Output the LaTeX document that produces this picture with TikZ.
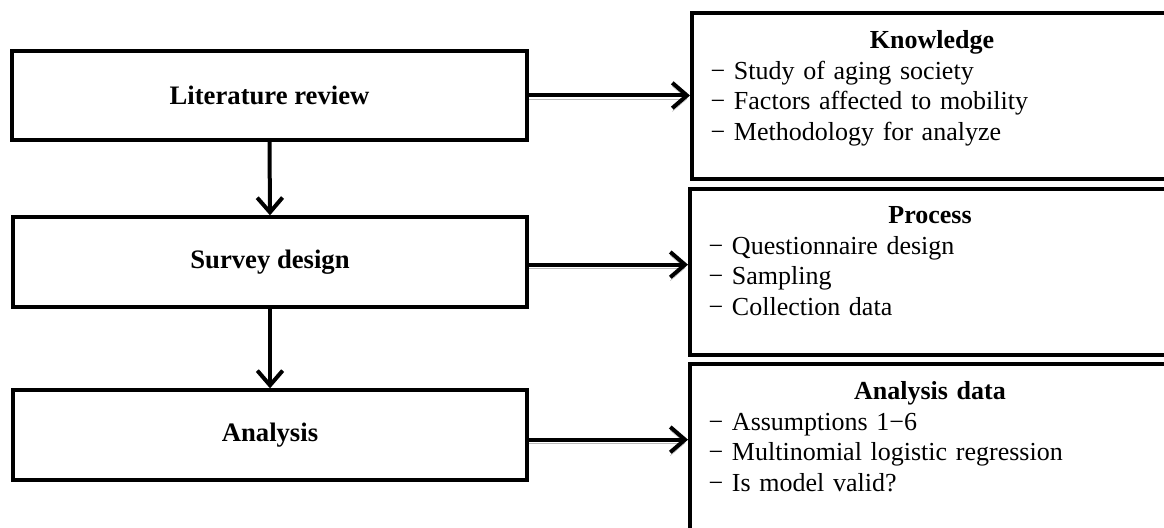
\documentclass[tikz,border=0pt]{standalone}
\usepackage{fontspec}
\setmainfont{Liberation Serif}
\usetikzlibrary{arrows.meta,positioning}

\tikzset{
    stepbox/.style={draw, line width=3pt, minimum width=386pt, minimum height=67pt,
        inner sep=0pt, font=\fontsize{20}{23}\selectfont\bfseries},
    sidebox/.style={draw, line width=3pt, anchor=north west, minimum width=360pt, inner sep=0pt},
    sidetext/.style={anchor=north, text width=332pt, inner xsep=14pt, inner ysep=0pt,
        font=\fontsize{19.5}{23}\selectfont},
    flow/.style={line width=3pt, -{Straight Barb[length=11pt, width=19pt]}},
    shadowed/.style={preaction={draw=gray!55, transform canvas={yshift=-2.5pt}}},
}

\begin{document}
\begin{tikzpicture}[x=0.75pt, y=0.75pt]
    \useasboundingbox (0, 0) rectangle (1164, 528);
    % steps on the left
    \node [stepbox] (lit) at (269.5, 432.5) {Literature review};
    \node [stepbox] (survey) at (270, 266) {Survey design};
    \node [stepbox] (ana) at (270, 93) {Analysis};
    % boxes on the right
    \node [sidebox, minimum height=124.5pt] (know) at (690, 517) {};
    \node [sidebox, minimum height=124.5pt] (proc) at (688, 341) {};
    \node [sidebox, minimum height=140pt] (data) at (688, 166) {};
    \node [sidetext] (knowtxt) at ([yshift=-14.5pt] know.north)
        {\centering\textbf{Knowledge}\par\raggedright
         − Study of aging society\\
         − Factors affected to mobility\\
         − Methodology for analyze};
    \node [sidetext] (proctxt) at ([yshift=-14.5pt] proc.north)
        {\centering\textbf{Process}\par\raggedright
         − Questionnaire design\\
         − Sampling\\
         − Collection data};
    \node [sidetext] (datatxt) at ([yshift=-14.5pt] data.north)
        {\centering\textbf{Analysis data}\par\raggedright
         − Assumptions 1−6\\
         − Multinomial logistic regression\\
         − Is model valid?};
    % connectors
    \draw [flow] (lit.south) -- (survey.north);
    \draw [flow] (survey.south) -- (ana.north);
    \draw [flow, shadowed] (lit.east) -- (lit.east -| know.west);
    \draw [flow, shadowed] ([yshift=-2pt] survey.east) -- ([yshift=-2pt] survey.east -| proc.west);
    \draw [flow, shadowed] ([yshift=-3.5pt] ana.east) -- ([yshift=-3.5pt] ana.east -| data.west);
\end{tikzpicture}
\end{document}
